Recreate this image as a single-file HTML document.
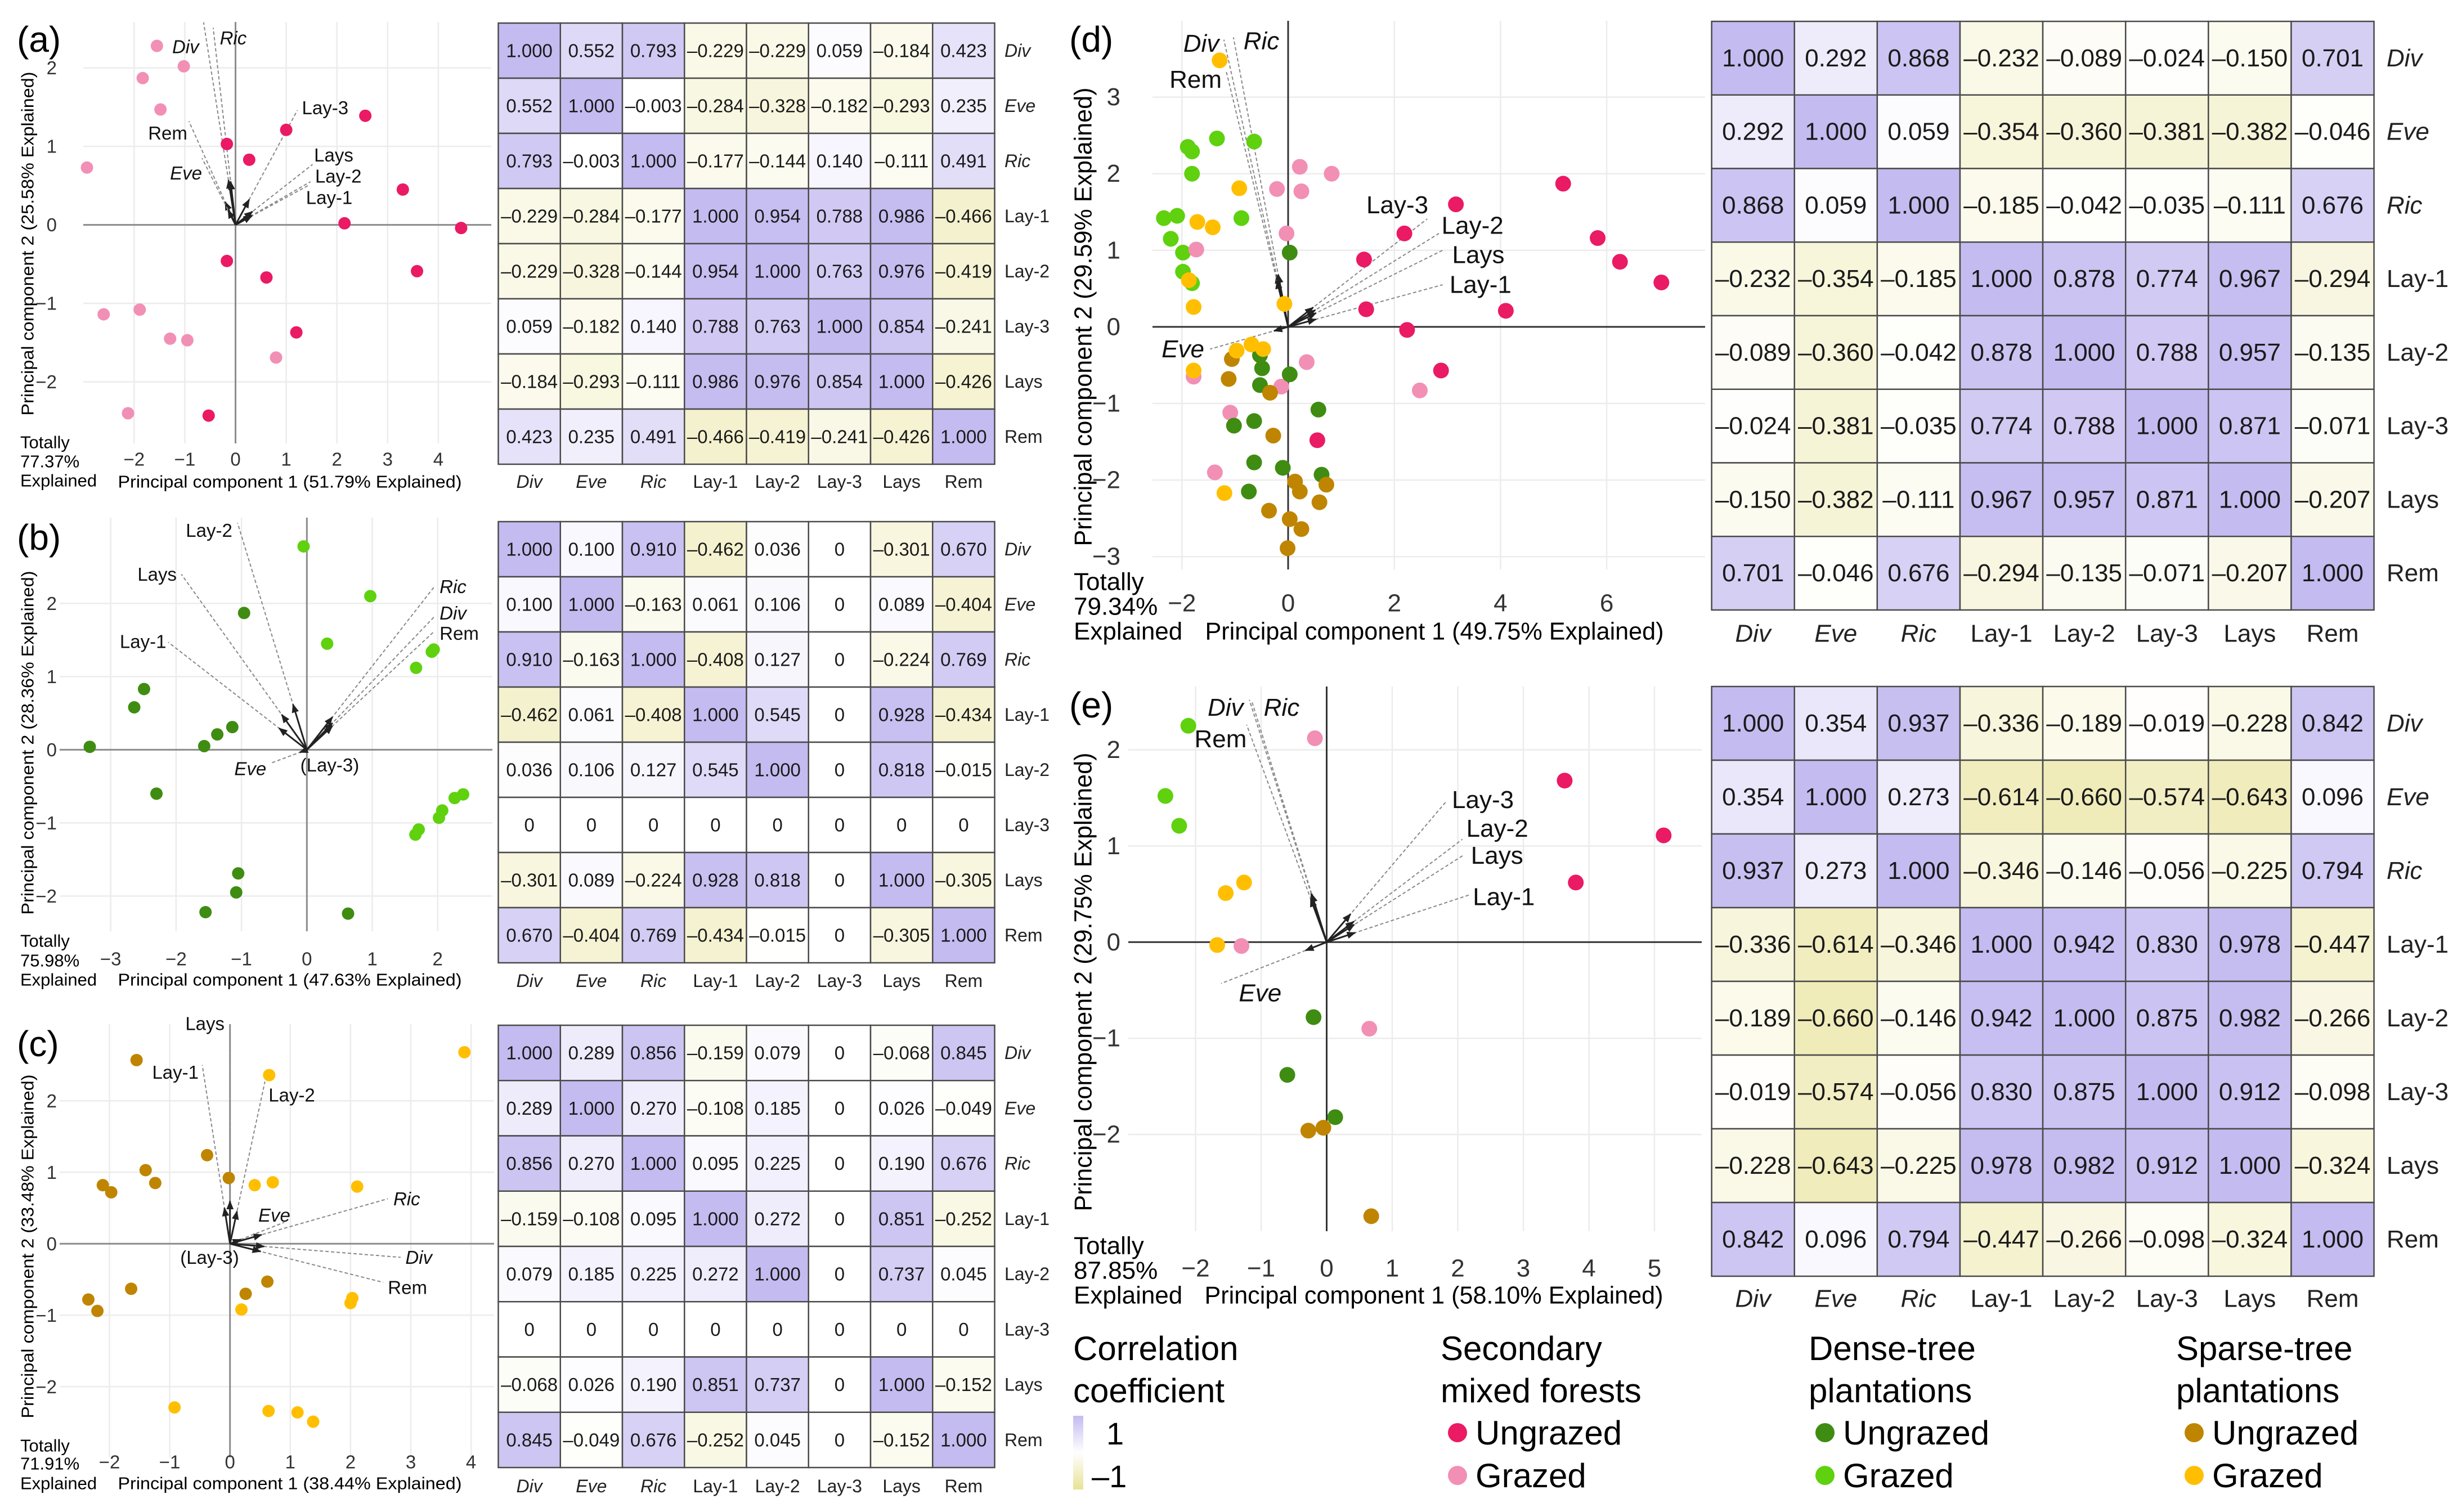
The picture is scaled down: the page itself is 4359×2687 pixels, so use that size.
<!DOCTYPE html>
<html><head><meta charset="utf-8">
<style>
html,body{margin:0;padding:0;background:#fff;}
svg{display:block;font-family:"Liberation Sans",sans-serif;}
</style></head>
<body>
<svg id="fig" xmlns="http://www.w3.org/2000/svg" width="4359" height="2687" viewBox="0 0 4359 2687">
<defs>
<marker id="arr" viewBox="0 0 10 10" refX="9" refY="5" markerWidth="16" markerHeight="16" markerUnits="userSpaceOnUse" orient="auto"><path d="M0,1 L10,5 L0,9 z" fill="#222"/></marker>
<linearGradient id="cbar" x1="0" y1="0" x2="0" y2="1"><stop offset="0" stop-color="#c4bbf0"/><stop offset="0.5" stop-color="#ffffff"/><stop offset="1" stop-color="#e8e296"/></linearGradient>
</defs>
<rect x="0" y="0" width="4359" height="2687" fill="#fff"/>
<g>
 <text x="1907" y="2417" font-size="60">Correlation</text>
 <text x="1907" y="2492" font-size="60">coefficient</text>
 <rect x="1907" y="2516" width="18" height="131" fill="url(#cbar)"/>
 <text x="1966" y="2567" font-size="56">1</text>
 <text x="1940" y="2643" font-size="56">–1</text>
 <text x="2560" y="2417" font-size="60">Secondary</text>
 <text x="2560" y="2492" font-size="60">mixed forests</text>
 <circle cx="2590" cy="2546" r="17" fill="#ea1a64"/>
 <text x="2622" y="2567" font-size="60">Ungrazed</text>
 <circle cx="2590" cy="2622" r="17" fill="#f28fb5"/>
 <text x="2622" y="2643" font-size="60">Grazed</text>
 <text x="3214" y="2417" font-size="60">Dense-tree</text>
 <text x="3214" y="2492" font-size="60">plantations</text>
 <circle cx="3243" cy="2546" r="17" fill="#3f8c12"/>
 <text x="3275" y="2567" font-size="60">Ungrazed</text>
 <circle cx="3243" cy="2622" r="17" fill="#5fd10f"/>
 <text x="3275" y="2643" font-size="60">Grazed</text>
 <text x="3867" y="2417" font-size="60">Sparse-tree</text>
 <text x="3867" y="2492" font-size="60">plantations</text>
 <circle cx="3899" cy="2546" r="17" fill="#bf8500"/>
 <text x="3931" y="2567" font-size="60">Ungrazed</text>
 <circle cx="3899" cy="2622" r="17" fill="#ffbf00"/>
 <text x="3931" y="2643" font-size="60">Grazed</text>
</g>
</svg>
<script>
// ===== DATA =====
const varNames = ["Div","Eve","Ric","Lay-1","Lay-2","Lay-3","Lays","Rem"];
const italicVars = ["Div","Eve","Ric"];

// Panel (a) scores
const aSecGX=[-1.55,-1.02,-1.83,-1.48,-2.93,-2.6,-1.89,-1.29,-0.95,0.8,-2.12];
const aSecGY=[2.28,2.02,1.87,1.47,0.73,-1.14,-1.08,-1.45,-1.47,-1.69,-2.4];
const aSecUX=[2.56,1.0,-0.17,0.27,3.3,2.15,4.45,-0.17,0.61,3.58,1.2,-0.53];
const aSecUY=[1.39,1.21,1.03,0.83,0.45,0.02,-0.04,-0.46,-0.67,-0.59,-1.37,-2.43];
// Panel (b) scores
const bDenGX=[-0.05,0.97,0.31,1.91,1.94,1.67,2.39,2.26,2.07,2.02,1.71,1.66];
const bDenGY=[2.78,2.10,1.45,1.34,1.37,1.12,-0.61,-0.66,-0.83,-0.93,-1.09,-1.16];
const bDenUX=[-0.96,-2.49,-2.64,-1.14,-1.37,-1.57,-3.32,-2.30,-1.05,-1.08,-1.55,0.63];
const bDenUY=[1.87,0.83,0.58,0.31,0.21,0.05,0.04,-0.60,-1.69,-1.95,-2.22,-2.24];
// Panel (c) scores
const cSpaUX=[-1.55,-0.38,-1.40,-0.02,-2.11,-1.24,-1.97,-1.64,-2.35,-2.20,0.62,0.26];
const cSpaUY=[2.57,1.24,1.03,0.92,0.82,0.85,0.72,-0.63,-0.78,-0.94,-0.53,-0.70];
const cSpaGX=[3.89,0.65,0.41,0.71,2.11,2.03,2.0,0.19,-0.92,0.64,1.12,1.38];
const cSpaGY=[2.68,2.36,0.82,0.86,0.80,-0.76,-0.83,-0.92,-2.29,-2.34,-2.36,-2.49];
// Panel (d) scores
const dSecUX=[5.18,3.16,2.19,5.83,6.25,1.43,7.03,1.47,4.10,2.24,2.88,0.55];
const dSecUY=[1.87,1.60,1.22,1.16,0.85,0.88,0.58,0.23,0.21,-0.04,-0.57,-1.48];
const dSecGX=[0.22,0.82,-0.21,0.25,-0.03,-1.73,0.35,2.48,-1.78,-0.13,-1.09,-1.38];
const dSecGY=[2.09,2.0,1.80,1.77,1.22,1.01,-0.46,-0.83,-0.65,-0.78,-1.12,-1.90];
const dDenGX=[-1.34,-0.64,-1.89,-1.81,-1.81,-2.34,-2.09,-0.88,-2.21,-1.98,-1.98,-1.81];
const dDenGY=[2.46,2.42,2.35,2.29,2.0,1.42,1.45,1.42,1.15,0.97,0.72,0.57];
const dDenUX=[0.03,-0.53,-0.49,0.03,-0.53,0.57,-1.02,-0.64,-0.64,-0.10,0.63,-0.74];
const dDenUY=[0.97,-0.37,-0.54,-0.62,-0.76,-1.08,-1.29,-1.23,-1.77,-1.84,-1.93,-2.15];
const dSpaGX=[-1.29,-0.92,-1.71,-1.42,-1.87,-1.78,-0.07,-0.97,-0.69,-0.47,-1.78,-1.20];
const dSpaGY=[3.48,1.81,1.37,1.30,0.61,0.26,0.30,-0.31,-0.23,-0.29,-0.57,-2.17];
const dSpaUX=[-1.06,-1.12,-0.34,-0.28,0.13,0.22,0.72,0.59,-0.36,0.03,0.25,-0.01];
const dSpaUY=[-0.42,-0.68,-0.86,-1.42,-2.02,-2.15,-2.06,-2.29,-2.40,-2.51,-2.64,-2.89];
// Panel (e) scores
const eSecUX=[3.63,5.14,3.80];
const eSecUY=[1.68,1.11,0.62];
const eSecGX=[-0.18,-1.30,0.65];
const eSecGY=[2.12,-0.04,-0.90];
const eDenGX=[-2.11,-2.46,-2.25];
const eDenGY=[2.25,1.52,1.21];
const eDenUX=[-0.20,-0.60,0.13];
const eDenUY=[-0.78,-1.38,-1.82];
const eSpaGX=[-1.26,-1.54,-1.67];
const eSpaGY=[0.62,0.51,-0.03];
const eSpaUX=[-0.28,-0.05,0.68];
const eSpaUY=[-1.96,-1.93,-2.85];

// Loadings (end of dashed line) and label anchors, per panel
const aLoadNames=["Div","Ric","Rem","Eve","Lay-3","Lays","Lay-2","Lay-1"];
const aLoadX=[-0.63,-0.44,-0.92,-0.66,1.22,1.52,1.48,1.46];
const aLoadY=[2.58,2.51,1.32,0.85,1.46,0.77,0.55,0.51];
const aLabX=[-0.72,-0.31,-0.95,-0.66,1.31,1.55,1.57,1.39];
const aLabY=[2.27,2.38,1.17,0.66,1.49,0.89,0.62,0.35];
const aLabAnchor=["end","start","end","end","start","start","start","start"];

const bLoadNames=["Lay-2","Lays","Lay-1","Ric","Div","Rem","Eve","(Lay-3)"];
const bLoadX=[-1.06,-1.92,-2.12,1.95,1.95,1.95,-0.54,0];
const bLoadY=[3.10,2.40,1.47,2.23,1.82,1.62,-0.18,0];
const bLabX=[-1.14,-1.99,-2.15,2.03,2.03,2.03,-0.62,-0.1];
const bLabY=[3.0,2.40,1.48,2.23,1.87,1.59,-0.26,-0.21];
const bLabAnchor=["end","end","end","start","start","start","end","start"];

const cLoadNames=["Lays","Lay-1","Lay-2","Ric","Eve","Div","Rem","(Lay-3)"];
const cLoadX=[0,-0.46,0.58,2.62,0.9,2.83,2.54,0];
const cLoadY=[2.98,2.50,2.27,0.63,0.30,-0.19,-0.54,0];
const cLabX=[-0.09,-0.52,0.64,2.71,0.47,2.91,2.62,0.15];
const cLabY=[3.08,2.40,2.08,0.63,0.40,-0.19,-0.61,-0.19];
const cLabAnchor=["end","end","start","start","start","start","start","end"];

const dLoadNames=["Div","Ric","Rem","Eve","Lay-3","Lay-2","Lays","Lay-1"];
const dLoadX=[-1.21,-1.03,-1.17,-1.47,2.62,2.84,2.91,2.91];
const dLoadY=[3.75,3.78,3.35,-0.29,1.41,1.22,1.0,0.55];
const dLabX=[-1.30,-0.84,-1.25,-1.58,2.64,2.89,3.09,3.04];
const dLabY=[3.70,3.73,3.23,-0.29,1.59,1.32,0.94,0.55];
const dLabAnchor=["end","start","end","end","end","start","start","start"];

const eLoadNames=["Div","Ric","Rem","Eve","Lay-3","Lay-2","Lays","Lay-1"];
const eLoadX=[-1.18,-1.14,-1.22,-1.61,1.82,2.07,2.10,2.17];
const eLoadY=[2.52,2.50,2.26,-0.43,1.46,1.07,0.91,0.49];
const eLabX=[-1.27,-0.96,-1.22,-1.34,1.91,2.13,2.20,2.23];
const eLabY=[2.44,2.44,2.11,-0.53,1.48,1.18,0.90,0.47];
const eLabAnchor=["end","start","end","start","start","start","start","start"];

// Tick labels
const aXTicks=[-2,-1,0,1,2,3,4], aYTicks=[-2,-1,0,1,2];
const bXTicks=[-3,-2,-1,0,1,2], bYTicks=[-2,-1,0,1,2];
const cXTicks=[-2,-1,0,1,2,3,4], cYTicks=[-2,-1,0,1,2];
const dXTicks=[-2,0,2,4,6], dYTicks=[-3,-2,-1,0,1,2,3];
const eXTicks=[-2,-1,0,1,2,3,4,5], eYTicks=[-2,-1,0,1,2];

// Correlation matrices
const heatA=[
[1.000,0.552,0.793,-0.229,-0.229,0.059,-0.184,0.423],
[0.552,1.000,-0.003,-0.284,-0.328,-0.182,-0.293,0.235],
[0.793,-0.003,1.000,-0.177,-0.144,0.140,-0.111,0.491],
[-0.229,-0.284,-0.177,1.000,0.954,0.788,0.986,-0.466],
[-0.229,-0.328,-0.144,0.954,1.000,0.763,0.976,-0.419],
[0.059,-0.182,0.140,0.788,0.763,1.000,0.854,-0.241],
[-0.184,-0.293,-0.111,0.986,0.976,0.854,1.000,-0.426],
[0.423,0.235,0.491,-0.466,-0.419,-0.241,-0.426,1.000]];
const heatB=[
[1.000,0.100,0.910,-0.462,0.036,0,-0.301,0.670],
[0.100,1.000,-0.163,0.061,0.106,0,0.089,-0.404],
[0.910,-0.163,1.000,-0.408,0.127,0,-0.224,0.769],
[-0.462,0.061,-0.408,1.000,0.545,0,0.928,-0.434],
[0.036,0.106,0.127,0.545,1.000,0,0.818,-0.015],
[0,0,0,0,0,0,0,0],
[-0.301,0.089,-0.224,0.928,0.818,0,1.000,-0.305],
[0.670,-0.404,0.769,-0.434,-0.015,0,-0.305,1.000]];
const heatC=[
[1.000,0.289,0.856,-0.159,0.079,0,-0.068,0.845],
[0.289,1.000,0.270,-0.108,0.185,0,0.026,-0.049],
[0.856,0.270,1.000,0.095,0.225,0,0.190,0.676],
[-0.159,-0.108,0.095,1.000,0.272,0,0.851,-0.252],
[0.079,0.185,0.225,0.272,1.000,0,0.737,0.045],
[0,0,0,0,0,0,0,0],
[-0.068,0.026,0.190,0.851,0.737,0,1.000,-0.152],
[0.845,-0.049,0.676,-0.252,0.045,0,-0.152,1.000]];
const heatD=[
[1.000,0.292,0.868,-0.232,-0.089,-0.024,-0.150,0.701],
[0.292,1.000,0.059,-0.354,-0.360,-0.381,-0.382,-0.046],
[0.868,0.059,1.000,-0.185,-0.042,-0.035,-0.111,0.676],
[-0.232,-0.354,-0.185,1.000,0.878,0.774,0.967,-0.294],
[-0.089,-0.360,-0.042,0.878,1.000,0.788,0.957,-0.135],
[-0.024,-0.381,-0.035,0.774,0.788,1.000,0.871,-0.071],
[-0.150,-0.382,-0.111,0.967,0.957,0.871,1.000,-0.207],
[0.701,-0.046,0.676,-0.294,-0.135,-0.071,-0.207,1.000]];
const heatE=[
[1.000,0.354,0.937,-0.336,-0.189,-0.019,-0.228,0.842],
[0.354,1.000,0.273,-0.614,-0.660,-0.574,-0.643,0.096],
[0.937,0.273,1.000,-0.346,-0.146,-0.056,-0.225,0.794],
[-0.336,-0.614,-0.346,1.000,0.942,0.830,0.978,-0.447],
[-0.189,-0.660,-0.146,0.942,1.000,0.875,0.982,-0.266],
[-0.019,-0.574,-0.056,0.830,0.875,1.000,0.912,-0.098],
[-0.228,-0.643,-0.225,0.978,0.982,0.912,1.000,-0.324],
[0.842,0.096,0.794,-0.447,-0.266,-0.098,-0.324,1.000]];

const totals={a:"77.37%",b:"75.98%",c:"71.91%",d:"79.34%",e:"87.85%"};

// ===== RENDER =====
const NS='http://www.w3.org/2000/svg';
const svg=document.getElementById('fig');
function mk(tag,attrs,parent){const e=document.createElementNS(NS,tag);for(const k in attrs)e.setAttribute(k,attrs[k]);parent.appendChild(e);return e;}
const COL={secU:"#ea1a64",secG:"#f28fb5",denU:"#3f8c12",denG:"#5fd10f",spaU:"#bf8500",spaG:"#ffbf00"};

function drawScatter(id,geo,groups,load){
  const g=mk('g',{},svg);
  
  
  const sx=v=>geo.x0+v*geo.xu, sy=v=>geo.y0-v*geo.yu;
  for(const t of geo.xt){const l=mk('line',{x1:sx(t),x2:sx(t),y1:geo.top,y2:geo.bottom,stroke:'#ececec','stroke-width':2.5},g);
    
    }
  for(const t of geo.yt){const l=mk('line',{x1:geo.left,x2:geo.right,y1:sy(t),y2:sy(t),stroke:'#ececec','stroke-width':2.5},g);
    
    }
  const ax1=mk('line',{x1:geo.left,x2:geo.right,y1:sy(0),y2:sy(0),stroke:geo.axisCol,'stroke-width':3},g);
  
  
  const ax2=mk('line',{x1:sx(0),x2:sx(0),y1:geo.top,y2:geo.bottom,stroke:geo.axisCol,'stroke-width':3},g);
  
  
  for(const t of geo.xt){const e=mk('text',{x:sx(t),y:geo.xtickY,'font-size':geo.tf,'text-anchor':'middle','dominant-baseline':'central',fill:'#333'},g);
    e.textContent=t<0?'−'+(-t):String(t);
    
    }
  for(const t of geo.yt){const e=mk('text',{x:geo.ytickX,y:sy(t),'font-size':geo.tf,'text-anchor':'end','dominant-baseline':'central',fill:'#333'},g);
    e.textContent=t<0?'−'+(-t):String(t);
    
    }
  const xt=mk('text',{x:geo.xtitleX,y:geo.xtitleY,'font-size':geo.titleF,'text-anchor':'middle','dominant-baseline':'central',textLength:geo.titleLen,lengthAdjust:'spacingAndGlyphs'},g);
  xt.textContent='Principal component 1 ('+geo.pc1+' Explained)';
  
  
  const yt=mk('text',{x:0,y:0,'font-size':geo.titleF,'text-anchor':'middle','dominant-baseline':'central',textLength:geo.titleLen,lengthAdjust:'spacingAndGlyphs',transform:'translate('+geo.ytitleX+','+geo.ytitleY+') rotate(-90)'},g);
  yt.textContent='Principal component 2 ('+geo.pc2+' Explained)';
  
  
  const tl=['Totally',totals[id],'Explained'];
  tl.forEach((s,i)=>{const e=mk('text',{x:geo.totX,y:geo.totY[i],'font-size':geo.titleF,'dominant-baseline':'central'},g);
    e.textContent=s;
    
    });
  const pl=mk('text',{x:geo.plX,y:geo.plY,'font-size':64,'dominant-baseline':'central'},g);
  pl.textContent='('+id+')';
  
  
  for(let i=0;i<load.names.length;i++){
    const ex=load.x[i],ey=load.y[i];
    if(ex!==0||ey!==0){
      const dl=mk('line',{x1:sx(0),y1:sy(0),x2:sx(ex),y2:sy(ey),stroke:'#888','stroke-width':2,'stroke-dasharray':'6 4'},g);
      
      
      const ar=mk('line',{x1:sx(0),y1:sy(0),x2:sx(ex*geo.tipF),y2:sy(ey*geo.tipF),stroke:'#222','stroke-width':3,'marker-end':'url(#arr)'},g);
      
      
    }
    const lt=mk('text',{x:sx(load.lx[i]),y:sy(load.ly[i]),'font-size':geo.labF,'text-anchor':load.anc[i],'dominant-baseline':'central',fill:'#111'},g);
    const base=load.names[i].replace(/[()]/g,'');
    if(italicVars.indexOf(base)>=0) lt.setAttribute('font-style','italic');
    lt.textContent=load.names[i];
    
    
  }
  for(const grp of groups){
    for(let i=0;i<grp.x.length;i++){
      const c=mk('circle',{cx:sx(grp.x[i]),cy:sy(grp.y[i]),r:geo.r,fill:COL[grp.k]},g);
      
      
    }
  }
}

function cellColor(v){
  if(v>=0){return 'rgb('+Math.round(255-59*v)+','+Math.round(255-68*v)+','+Math.round(255-15*v)+')';}
  const a=-v;return 'rgb('+Math.round(255-23*a)+','+Math.round(255-29*a)+','+Math.round(255-105*a)+')';
}
function fmt(v){if(v===0)return '0';return (v<0?'–':'')+Math.abs(v).toFixed(3);}

function drawHeat(id,geo,M){
  const g=mk('g',{},svg);
  
  
  const n=varNames.length, cw=(geo.x1-geo.x0)/n, ch=(geo.y1-geo.y0)/n;
  for(let r=0;r<n;r++)for(let c=0;c<n;c++){
    const v=M[r][c];
    const rc=mk('rect',{x:geo.x0+c*cw,y:geo.y0+r*ch,width:cw,height:ch,fill:cellColor(v),stroke:'#4a4a4a','stroke-width':2.5},g);
    
    
    const t=mk('text',{x:geo.x0+(c+0.5)*cw,y:geo.y0+(r+0.5)*ch,'font-size':geo.f,'text-anchor':'middle','dominant-baseline':'central',fill:'#1a1a1a'},g);
    t.textContent=fmt(v);
    
    
  }
  for(let i=0;i<n;i++){
    const it=italicVars.indexOf(varNames[i])>=0;
    const cl=mk('text',{x:geo.x0+(i+0.5)*cw,y:geo.colY,'font-size':geo.lf,'text-anchor':'middle','dominant-baseline':'central',fill:'#222'},g);
    if(it)cl.setAttribute('font-style','italic');
    cl.textContent=varNames[i];
    
    
    const rl=mk('text',{x:geo.rowX,y:geo.y0+(i+0.5)*ch,'font-size':geo.lf,'dominant-baseline':'central',fill:'#222'},g);
    if(it)rl.setAttribute('font-style','italic');
    rl.textContent=varNames[i];
    
    
  }
}

const small={tf:33,titleF:31,labF:33,titleLen:611,r:11,axisCol:'#8c8c8c',ytickX:101,ytitleX:49,totX:36,plX:30};
const big={tf:44,titleF:44,labF:44,titleLen:815,r:14,axisCol:'#333',ytickX:1991,ytitleX:1925,totX:1908,plX:1900};

drawScatter('a',Object.assign({},small,{x0:418.5,xu:90.1,y0:399.6,yu:139.5,left:148,right:873,top:39,bottom:788,xt:aXTicks,yt:aYTicks,xtickY:816,xtitleX:515,xtitleY:856,ytitleY:433,totY:[786,820,854],plY:70,pc1:'51.79%',pc2:'25.58%',tipF:0.22}),
 [{k:'secG',x:aSecGX,y:aSecGY},{k:'secU',x:aSecUX,y:aSecUY}],
 {names:aLoadNames,x:aLoadX,y:aLoadY,lx:aLabX,ly:aLabY,anc:aLabAnchor});
drawScatter('b',Object.assign({},small,{x0:545.3,xu:116.2,y0:1332.4,yu:130,left:106,right:875,top:920,bottom:1655,xt:bXTicks,yt:bYTicks,xtickY:1704,xtitleX:515,xtitleY:1741,ytitleY:1320,totY:[1672,1707,1741],plY:955,pc1:'47.63%',pc2:'28.36%',tipF:0.2}),
 [{k:'denU',x:bDenUX,y:bDenUY},{k:'denG',x:bDenGX,y:bDenGY}],
 {names:bLoadNames,x:bLoadX,y:bLoadY,lx:bLabX,ly:bLabY,anc:bLabAnchor});
drawScatter('c',Object.assign({},small,{x0:408.7,xu:107.1,y0:2210.3,yu:127,left:106,right:878,top:1820,bottom:2590,xt:cXTicks,yt:cYTicks,xtickY:2598,xtitleX:515,xtitleY:2636,ytitleY:2215,totY:[2569,2601,2636],plY:1855,pc1:'38.44%',pc2:'33.48%',tipF:0.2}),
 [{k:'spaU',x:cSpaUX,y:cSpaUY},{k:'spaG',x:cSpaGX,y:cSpaGY}],
 {names:cLoadNames,x:cLoadX,y:cLoadY,lx:cLabX,ly:cLabY,anc:cLabAnchor});
drawScatter('d',Object.assign({},big,{x0:2289,xu:94.35,y0:580.9,yu:136.1,left:2048,right:3030,top:37,bottom:1012,xt:dXTicks,yt:dYTicks,xtickY:1072,xtitleX:2549,xtitleY:1122,ytitleY:563,totY:[1034,1078,1122],plY:70,pc1:'49.75%',pc2:'29.59%',tipF:0.18}),
 [{k:'denG',x:dDenGX,y:dDenGY},{k:'secG',x:dSecGX,y:dSecGY},{k:'denU',x:dDenUX,y:dDenUY},{k:'spaU',x:dSpaUX,y:dSpaUY},{k:'spaG',x:dSpaGX,y:dSpaGY},{k:'secU',x:dSecUX,y:dSecUY}],
 {names:dLoadNames,x:dLoadX,y:dLoadY,lx:dLabX,ly:dLabY,anc:dLabAnchor});
drawScatter('e',Object.assign({},big,{x0:2357.5,xu:116.5,y0:1674.3,yu:170.9,left:2005,right:3024,top:1220,bottom:2188,xt:eXTicks,yt:eYTicks,xtickY:2254,xtitleX:2548,xtitleY:2302,ytitleY:1745,totY:[2214,2258,2302],plY:1253,pc1:'58.10%',pc2:'29.75%',tipF:0.2}),
 [{k:'denG',x:eDenGX,y:eDenGY},{k:'secG',x:eSecGX,y:eSecGY},{k:'denU',x:eDenUX,y:eDenUY},{k:'spaU',x:eSpaUX,y:eSpaUY},{k:'spaG',x:eSpaGX,y:eSpaGY},{k:'secU',x:eSecUX,y:eSecUY}],
 {names:eLoadNames,x:eLoadX,y:eLoadY,lx:eLabX,ly:eLabY,anc:eLabAnchor});

drawHeat('a',{x0:885.5,x1:1767.5,y0:41,y1:825,colY:856,rowX:1785,f:33,lf:32},heatA);
drawHeat('b',{x0:885.5,x1:1767.5,y0:927,y1:1711,colY:1743,rowX:1785,f:33,lf:32},heatB);
drawHeat('c',{x0:885.5,x1:1767.5,y0:1822,y1:2608,colY:2641,rowX:1785,f:33,lf:32},heatC);
drawHeat('d',{x0:3041.6,x1:4218.6,y0:38,y1:1084,colY:1126,rowX:4241,f:44,lf:44},heatD);
drawHeat('e',{x0:3041.6,x1:4218.6,y0:1220,y1:2268,colY:2308,rowX:4241,f:44,lf:44},heatE);
</script>
</body></html>
